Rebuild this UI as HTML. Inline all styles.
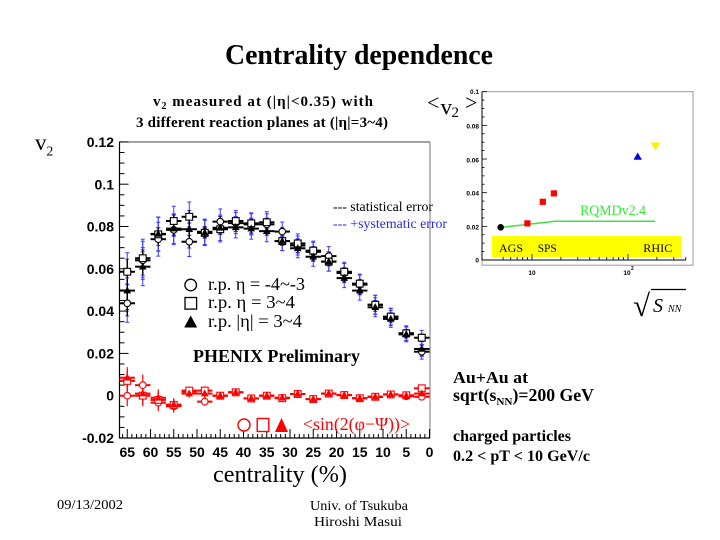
<!DOCTYPE html>
<html>
<head>
<meta charset="utf-8">
<style>
html,body{margin:0;padding:0;background:#fff;}
svg{display:block;}
.serif{font-family:"Liberation Serif",serif;}
.sans{font-family:"Liberation Sans",sans-serif;}
</style>
</head>
<body>
<svg id="s" width="720" height="540" viewBox="0 0 720 540" xmlns="http://www.w3.org/2000/svg">
<rect width="720" height="540" fill="#fff"/>

<!-- Title -->
<text class="serif" x="359" y="64" font-size="28" font-weight="bold" text-anchor="middle" textLength="268" lengthAdjust="spacingAndGlyphs">Centrality dependence</text>

<!-- Subtitle -->
<text class="serif" x="153" y="106" font-size="15" font-weight="bold" textLength="220" lengthAdjust="spacing">v<tspan font-size="10" dy="3">2</tspan><tspan dy="-3"> measured at (|η|&lt;0.35) with</tspan></text>
<text class="serif" x="136" y="127" font-size="15" font-weight="bold" textLength="252" lengthAdjust="spacing">3 different reaction planes at (|η|=3~4)</text>

<!-- Y label -->
<text class="serif" x="35" y="150" font-size="23">v</text>
<text class="serif" x="46.5" y="155.5" font-size="13.5">2</text>

<!-- Main frame -->
<line x1="119.5" y1="142" x2="430" y2="142" stroke="#444" stroke-width="1"/>
<line x1="430" y1="142" x2="430" y2="438" stroke="#777" stroke-width="1"/>
<line x1="119.5" y1="141.5" x2="119.5" y2="438.5" stroke="#000" stroke-width="1.2"/>
<line x1="119.5" y1="438" x2="430" y2="438" stroke="#000" stroke-width="1.2"/>
<g id="axes"></g>

<g id="ylabels" class="sans" font-size="14" font-weight="bold" text-anchor="end">
<text x="114" y="147">0.12</text>
<text x="114" y="189.3">0.1</text>
<text x="114" y="231.6">0.08</text>
<text x="114" y="273.9">0.06</text>
<text x="114" y="316.2">0.04</text>
<text x="114" y="358.5">0.02</text>
<text x="114" y="400.7">0</text>
<text x="114" y="443">-0.02</text>
</g>
<g id="xlabels" class="sans" font-size="14" font-weight="bold" text-anchor="middle">
<text x="127.3" y="457">65</text>
<text x="150.5" y="457">60</text>
<text x="173.8" y="457">55</text>
<text x="197" y="457">50</text>
<text x="220.3" y="457">45</text>
<text x="243.5" y="457">40</text>
<text x="266.8" y="457">35</text>
<text x="290" y="457">30</text>
<text x="313.3" y="457">25</text>
<text x="336.5" y="457">20</text>
<text x="359.8" y="457">15</text>
<text x="383" y="457">10</text>
<text x="406.3" y="457">5</text>
<text x="429.5" y="457">0</text>
</g>

<text class="serif" x="213" y="482" font-size="24" textLength="134" lengthAdjust="spacingAndGlyphs">centrality (%)</text>

<!-- data -->
<g id="data"></g>

<!-- error legend -->
<text class="serif" x="333" y="211" font-size="14" textLength="100" lengthAdjust="spacingAndGlyphs">--- statistical error</text>
<text class="serif" x="333" y="228" font-size="14" fill="#2a2ae6" textLength="114" lengthAdjust="spacingAndGlyphs">--- +systematic error</text>

<!-- marker legend -->
<circle cx="190.7" cy="285" r="5.8" fill="#fff" stroke="#000" stroke-width="1.3"/>
<rect x="185" y="297.5" width="11.6" height="11.6" fill="#fff" stroke="#000" stroke-width="1.3"/>
<polygon points="190.7,315.5 184.2,327.5 197.2,327.5" fill="#000"/>
<text class="serif" x="208" y="290" font-size="18" textLength="97" lengthAdjust="spacingAndGlyphs">r.p. η = -4~-3</text>
<text class="serif" x="208" y="308" font-size="18" textLength="87" lengthAdjust="spacingAndGlyphs">r.p. η = 3~4</text>
<text class="serif" x="208" y="327" font-size="18" textLength="94" lengthAdjust="spacingAndGlyphs">r.p. |η| = 3~4</text>

<text class="serif" x="193" y="362" font-size="18" font-weight="bold" textLength="167" lengthAdjust="spacingAndGlyphs">PHENIX Preliminary</text>

<!-- red legend -->
<circle cx="244" cy="425" r="6" fill="#fff" stroke="#f00" stroke-width="1.4"/>
<rect x="257.2" y="418.5" width="11.6" height="13" fill="#fff" stroke="#f00" stroke-width="1.4"/>
<polygon points="281.5,418 275,432 288,432" fill="#f00"/>
<text class="serif" x="303" y="430" font-size="18" fill="#f00" textLength="107" lengthAdjust="spacingAndGlyphs">&lt;sin(2(φ−Ψ))&gt;</text>

<!-- right text -->
<text class="serif" x="453" y="383" font-size="17" font-weight="bold" textLength="75" lengthAdjust="spacingAndGlyphs">Au+Au at</text>
<text class="serif" x="453" y="401" font-size="17.5" font-weight="bold" textLength="141" lengthAdjust="spacingAndGlyphs">sqrt(s<tspan font-size="11" dy="4">NN</tspan><tspan dy="-4">)=200 GeV</tspan></text>
<text class="serif" x="453" y="441" font-size="16" font-weight="bold" textLength="118" lengthAdjust="spacingAndGlyphs">charged particles</text>
<text class="serif" x="453" y="461" font-size="16" font-weight="bold" textLength="137" lengthAdjust="spacingAndGlyphs">0.2 &lt; pT &lt; 10 GeV/c</text>

<!-- footer -->
<text class="serif" x="57" y="509" font-size="14" textLength="66" lengthAdjust="spacingAndGlyphs">09/13/2002</text>
<text class="serif" x="310" y="510" font-size="14" textLength="98" lengthAdjust="spacingAndGlyphs">Univ. of Tsukuba</text>
<text class="serif" x="314" y="526" font-size="14" textLength="88" lengthAdjust="spacingAndGlyphs">Hiroshi Masui</text>

<!-- Inset -->
<rect x="482" y="91.7" width="211" height="173.5" fill="#fff" stroke="#999" stroke-width="1"/>
<rect x="491.7" y="236" width="189.3" height="21.7" fill="#ffff00"/>
<line x1="482" y1="91.7" x2="482" y2="260" stroke="#000" stroke-width="1"/>
<line x1="482" y1="260" x2="686" y2="260" stroke="#000" stroke-width="1"/>
<g id="inset"></g>
<g class="sans" font-size="6.5" font-weight="bold" text-anchor="end" fill="#000">
<text x="479" y="94">0.1</text>
<text x="479" y="128.6">0.08</text>
<text x="479" y="162.3">0.06</text>
<text x="479" y="195.6">0.04</text>
<text x="479" y="229.6">0.02</text>
<text x="479" y="262.3">0</text>
</g>
<g class="sans" font-size="6.5" font-weight="bold" text-anchor="middle">
<text x="532" y="275">10</text>
<text x="627" y="275">10</text>
</g>
<text class="sans" x="631" y="270" font-size="5" font-weight="bold">2</text>

<text class="serif" x="499" y="252" font-size="12" textLength="24" lengthAdjust="spacingAndGlyphs">AGS</text>
<text class="serif" x="537.7" y="252" font-size="12" textLength="19" lengthAdjust="spacingAndGlyphs">SPS</text>
<text class="serif" x="643.3" y="252" font-size="12" textLength="29" lengthAdjust="spacingAndGlyphs">RHIC</text>

<polyline points="500.7,227.5 555,221.3 655,221.3" fill="none" stroke="#44dd44" stroke-width="1.5"/>
<text class="serif" x="580" y="215" font-size="15" fill="#33ee33" textLength="66" lengthAdjust="spacingAndGlyphs">RQMDv2.4</text>

<circle cx="500.7" cy="227.3" r="3.3" fill="#000"/>
<rect x="524.3" y="220.3" width="6.2" height="6.2" fill="#f00"/>
<rect x="539.7" y="198.7" width="6.2" height="6.2" fill="#f00"/>
<rect x="550.8" y="190.3" width="6.2" height="6.2" fill="#f00"/>
<polygon points="637.7,152.5 633.5,159.7 641.9,159.7" fill="#0000dd"/>
<polygon points="650.8,142.5 660.4,142.5 655.6,150.5" fill="#ffee00"/>

<text class="serif" x="427" y="110" font-size="22">&lt;</text>
<text class="serif" x="440.5" y="114.5" font-size="23">v</text>
<text class="serif" x="451.5" y="117" font-size="15">2</text>
<text class="serif" x="465" y="110" font-size="22">&gt;</text>

<text class="serif" x="633" y="316" font-size="31">√</text>
<line x1="651" y1="289.5" x2="686" y2="289.5" stroke="#000" stroke-width="1.2"/>
<text class="serif" x="653" y="312" font-size="20" font-style="italic">S</text>
<text class="serif" x="668" y="312" font-size="10" font-style="italic">NN</text>
</svg>

<script>
(function(){
var NS="http://www.w3.org/2000/svg";
function el(parent,tag,attrs){var e=document.createElementNS(NS,tag);for(var k in attrs)e.setAttribute(k,attrs[k]);parent.appendChild(e);return e;}
var X=function(c){return 429.5-c*4.65;};
var Y=function(v){return 395.7-v*2115;};
var axes=document.getElementById('axes');
for(var i=0;i<=28;i++){
  var v=-0.02+i*0.005; var y=Y(v);
  var major=(i%4===0);
  el(axes,'line',{x1:119.5,y1:y,x2:119.5+(major?9:5),y2:y,stroke:'#000','stroke-width':1});
}
for(var c=0;c<=66;c++){
  var x=X(c); var major=(c%5===0);
  el(axes,'line',{x1:x,y1:438,x2:x,y2:438-(major?9:4),stroke:'#000','stroke-width':1});
}
var bins=[];for(var i=0;i<20;i++)bins.push(65-i*10/3);
var circ=[0.0437,0.064,0.074,0.0784,0.0728,0.0775,0.0823,0.0816,0.081,0.081,0.0776,0.071,0.068,0.066,0.058,0.0525,0.043,0.0372,0.0295,0.0208];
var squa=[0.0586,0.065,0.0763,0.0826,0.0846,0.077,0.0787,0.0826,0.0815,0.082,0.0731,0.072,0.0686,0.0634,0.0586,0.053,0.043,0.0374,0.0295,0.0274];
var tria=[0.0497,0.061,0.0765,0.079,0.0787,0.077,0.0794,0.0796,0.079,0.0778,0.0731,0.0697,0.0657,0.0634,0.0556,0.0497,0.0418,0.0363,0.029,0.0221];
var stat=[0.006,0.004,0.003,0.003,0.003,0.0025,0.0025,0.002,0.002,0.002,0.002,0.002,0.002,0.002,0.002,0.002,0.002,0.0018,0.0018,0.0018];
var sys=[0.009,0.009,0.008,0.007,0.007,0.006,0.006,0.005,0.005,0.005,0.0045,0.0045,0.0045,0.0045,0.0045,0.0045,0.0045,0.004,0.0035,0.0035];
var rc=[0,0.005,-0.0033,-0.005,0.002,-0.0028,0,0.0016,-0.0013,0,-0.001,0.0008,-0.0016,0.001,0.0003,-0.0012,-0.0005,0.0006,-0.0003,-0.0005];
var rs=[0.007,0,-0.002,-0.0044,0.0024,0.0024,0,0.0016,-0.0013,0,-0.0012,0.0008,-0.0016,0.001,0.0003,-0.0012,-0.0005,0.0006,0.0002,0.0035];
var rt=[0.0085,0.001,-0.001,-0.0042,0.001,0.001,0,0.0016,-0.0013,0,-0.001,0.0008,-0.0016,0.001,0.0003,-0.0012,-0.0005,0.0006,0,0.001];
var rerr=[0.005,0.005,0.004,0.003,0.002,0.002,0.0015,0.0012,0.001,0.001,0.001,0.001,0.001,0.001,0.001,0.001,0.001,0.001,0.001,0.0012];
var g=document.getElementById('data');
var HW=7.7;
var blue='#3a3aff';
var series=[circ,squa,tria];
series.forEach(function(s){
  for(var i=0;i<20;i++){
    var x=X(bins[i]),v=s[i];
    var y1=Y(v+sys[i]),y2=Y(v-sys[i]);
    el(g,'line',{x1:x,y1:y1,x2:x,y2:y2,stroke:blue,'stroke-width':1});
    el(g,'line',{x1:x-2,y1:y1,x2:x+2,y2:y1,stroke:blue,'stroke-width':1});
    el(g,'line',{x1:x-2,y1:y2,x2:x+2,y2:y2,stroke:blue,'stroke-width':1});
    var s1=Y(v+stat[i]),s2=Y(v-stat[i]);
    el(g,'line',{x1:x-2,y1:s1,x2:x+2,y2:s1,stroke:blue,'stroke-width':1});
    el(g,'line',{x1:x-2,y1:s2,x2:x+2,y2:s2,stroke:blue,'stroke-width':1});
  }
});
series.forEach(function(s){
  for(var i=0;i<20;i++){
    var x=X(bins[i]),v=s[i];
    el(g,'line',{x1:x,y1:Y(v+stat[i]),x2:x,y2:Y(v-stat[i]),stroke:'#000','stroke-width':1.4});
    el(g,'line',{x1:x-HW,y1:Y(v),x2:x+HW,y2:Y(v),stroke:'#000','stroke-width':2});
  }
});
[rc,rs,rt].forEach(function(s){
  for(var i=0;i<20;i++){
    var x=X(bins[i]),v=s[i];
    el(g,'line',{x1:x,y1:Y(v+rerr[i]),x2:x,y2:Y(v-rerr[i]),stroke:'#f00','stroke-width':1.2});
    el(g,'line',{x1:x-HW,y1:Y(v),x2:x+HW,y2:Y(v),stroke:'#f00','stroke-width':2});
  }
});
function mk(type,x,y,col){
  if(type===0) el(g,'circle',{cx:x,cy:y,r:3.3,fill:'#fff',stroke:col,'stroke-width':1.1});
  else if(type===1) el(g,'rect',{x:x-3.4,y:y-3.4,width:6.8,height:6.8,fill:'#fff',stroke:col,'stroke-width':1.1});
  else el(g,'polygon',{points:(x)+','+(y-4.2)+' '+(x-3.8)+','+(y+2.8)+' '+(x+3.8)+','+(y+2.8),fill:col});
}
[circ,squa,tria].forEach(function(s,t){for(var i=0;i<20;i++)mk(t,X(bins[i]),Y(s[i]),'#000');});
[rc,rs,rt].forEach(function(s,t){for(var i=0;i<20;i++)mk(t,X(bins[i]),Y(s[i]),'#f00');});

var ins=document.getElementById('inset');
for(var i=0;i<=20;i++){
  var y=260-i*(168.3/20); var major=(i%4===0);
  el(ins,'line',{x1:482,y1:y,x2:482+(major?5:2.5),y2:y,stroke:'#000','stroke-width':0.8});
}
var LX=function(e){return 532+96*Math.log(e/10)/Math.LN10;};
[5,6,7,8,9,10,20,30,40,50,60,70,80,90,100,200,300,400].forEach(function(e){
  var x=LX(e); if(x>686)return; var major=(e===10||e===100);
  el(ins,'line',{x1:x,y1:260,x2:x,y2:260-(major?6:3),stroke:'#000','stroke-width':0.8});
});
})();
</script>
</body>
</html>
